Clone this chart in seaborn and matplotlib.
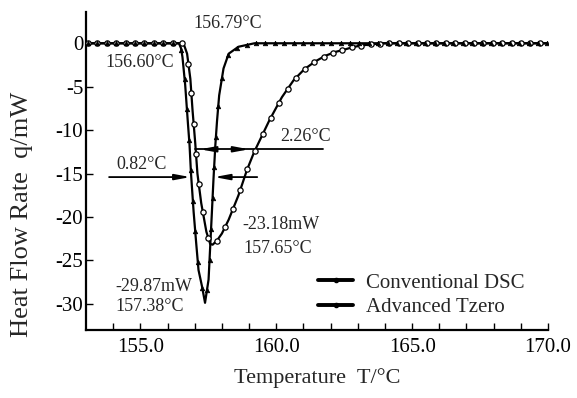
import matplotlib
matplotlib.use("Agg")
import matplotlib.pyplot as plt
from matplotlib.lines import Line2D
import seaborn as sns
import pandas as pd
import numpy as np

# ---- data ----
T_conv = [153.0, 156.53, 156.62, 156.72, 156.84, 156.92, 157.02, 157.1, 157.24, 157.43,
          157.57, 157.66, 157.82, 158.0, 158.25, 158.61, 158.92, 159.19, 159.75, 160.21,
          160.64, 161.03, 161.43, 161.8, 162.17, 162.54, 162.84, 163.2, 163.58, 163.9, 170.0]
q_conv = [0, 0, -0.3, -1.2, -4.1, -7.7, -11.5, -15.0, -18.4, -21.7,
          -23.1, -23.18, -22.7, -21.9, -20.3, -17.5, -14.6, -12.5, -8.85, -6.2,
          -4.25, -3.0, -2.1, -1.45, -1.0, -0.7, -0.42, -0.23, -0.1, 0, 0]

T_tz = [153.0, 156.42, 156.5, 156.55, 156.65, 156.75, 156.81, 156.86, 156.96, 157.06,
        157.14, 157.27, 157.38, 157.51, 157.57, 157.63, 157.69, 157.76, 157.82, 157.9,
        158.06, 158.25, 158.61, 159.2, 170.0]
q_tz = [0, 0, -0.6, -1.6, -4.8, -9.2, -11.7, -14.8, -19.4, -23.2,
        -26.1, -28.0, -29.87, -27.2, -23.4, -19.6, -15.7, -11.7, -9.0, -6.0,
        -2.9, -1.2, -0.4, 0, 0]

series_names = ["Conventional DSC", "Advanced Tzero"]
x_ticks = [155.0, 160.0, 165.0, 170.0]
x_tick_labels = ["155.0", "160.0", "165.0", "170.0"]
y_ticks = [0, -5, -10, -15, -20, -25, -30]

df_conv = pd.DataFrame({"T": T_conv, "q": q_conv})
df_tz = pd.DataFrame({"T": T_tz, "q": q_tz})

sns.set_theme(style="ticks")
plt.rcParams["font.family"] = ["Liberation Serif", "DejaVu Serif"]
plt.rcParams["axes.unicode_minus"] = False

fig = plt.figure(figsize=(5.77, 3.98), dpi=100)
ax = fig.add_axes([86/577, 1-330/398, 462/577, 318/398])
ax.set_xlim(153.0, 170.0)
ax.set_ylim(-33.0, 3.6)

sns.lineplot(data=df_conv, x="T", y="q", ax=ax, color="black", lw=1.6,
             estimator=None, sort=False)
sns.lineplot(data=df_tz, x="T", y="q", ax=ax, color="black", lw=1.6,
             estimator=None, sort=False)


def marker_positions(xs, ys, step, vscale=0.3, offset=0.0):
    """Place markers along the drawn line (display space), spaced like a time base."""
    pts = ax.transData.transform(np.column_stack([xs, ys]))
    d = np.diff(pts, axis=0)
    seg = np.sqrt(d[:, 0] ** 2 + (vscale * d[:, 1]) ** 2)
    s = np.concatenate([[0], np.cumsum(seg)])
    targets = np.arange(offset, s[-1], step)
    px = np.interp(targets, s, pts[:, 0])
    py = np.interp(targets, s, pts[:, 1])
    back = ax.transData.inverted().transform(np.column_stack([px, py]))
    return back[:, 0], back[:, 1]


mx, my = marker_positions(T_conv, q_conv, 9.4, offset=2.0)
ax.plot(mx, my, ls="none", marker="o", markersize=3.8, markerfacecolor="white",
        markeredgecolor="black", markeredgewidth=0.9, zorder=3)
mx, my = marker_positions(T_tz, q_tz, 9.4, offset=2.0)
ax.plot(mx, my, ls="none", marker="^", markersize=3.3, markerfacecolor="black",
        markeredgecolor="black", markeredgewidth=0.5, zorder=4)

ax.set_xticks(x_ticks)
ax.set_xticklabels(x_tick_labels)
ax.set_xticks([t for t in range(154, 171)], minor=True)
ax.set_yticks(y_ticks)
ax.set_yticklabels([str(v) for v in y_ticks])
ax.tick_params(axis="both", which="both", direction="in", length=5, width=1.0,
               color="black", labelsize=15, labelcolor="black")
ax.tick_params(axis="x", pad=6)
ax.tick_params(axis="y", pad=2)
for s in ["top", "right"]:
    ax.spines[s].set_visible(False)
for s in ["left", "bottom"]:
    ax.spines[s].set_linewidth(1.6)
    ax.spines[s].set_color("black")
ax.set_xlabel("")
ax.set_ylabel("")

fig.text(317/577, 1-378/398, "Temperature  T/°C", ha="center", va="center", fontsize=16)
fig.text(22/577, 1-214/398, "Heat Flow Rate  q/mW", ha="center", va="center",
         rotation=90, fontsize=19)

# annotations
tfs = 13
ax.text(156.95, 2.3, "156.79°C", ha="left", va="center", fontsize=tfs)
ax.text(153.71, -2.2, "156.60°C", ha="left", va="center", fontsize=tfs)
ax.text(160.15, -10.7, "2.26°C", ha="left", va="center", fontsize=tfs)
ax.text(154.12, -14.0, "0.82°C", ha="left", va="center", fontsize=tfs)
ax.text(158.75, -20.9, "-23.18mW", ha="left", va="center", fontsize=tfs)
ax.text(158.79, -23.6, "157.65°C", ha="left", va="center", fontsize=tfs)
ax.text(154.08, -28.0, "-29.87mW", ha="left", va="center", fontsize=tfs)
ax.text(154.08, -30.3, "157.38°C", ha="left", va="center", fontsize=tfs)

ap = dict(arrowstyle="-|>,head_length=0.75,head_width=0.14", color="black", lw=1.3,
          shrinkA=0, shrinkB=0)
# 2.26 width line
ax.plot([157.02, 161.73], [-12.2, -12.2], color="black", lw=1.3)
ax.annotate("", xy=(157.2, -12.2), xytext=(157.7, -12.2), arrowprops=ap)
ax.annotate("", xy=(159.0, -12.2), xytext=(158.5, -12.2), arrowprops=ap)
# 0.82 width line
ax.annotate("", xy=(156.84, -15.4), xytext=(153.85, -15.4), arrowprops=ap)
ax.annotate("", xy=(157.72, -15.4), xytext=(159.3, -15.4), arrowprops=ap)

handles = [Line2D([0], [0], color="black", lw=2.8, marker="o", markersize=3,
                  markerfacecolor="black"),
           Line2D([0], [0], color="black", lw=2.8, marker="o", markersize=3,
                  markerfacecolor="black")]
ax.legend(handles, series_names, loc="upper left", bbox_to_anchor=(232/462, 1-261/318),
          frameon=False, fontsize=15, handlelength=1.7, handletextpad=0.58,
          labelspacing=0.25, borderaxespad=0, borderpad=0)

fig.savefig("out.png", dpi=100)
